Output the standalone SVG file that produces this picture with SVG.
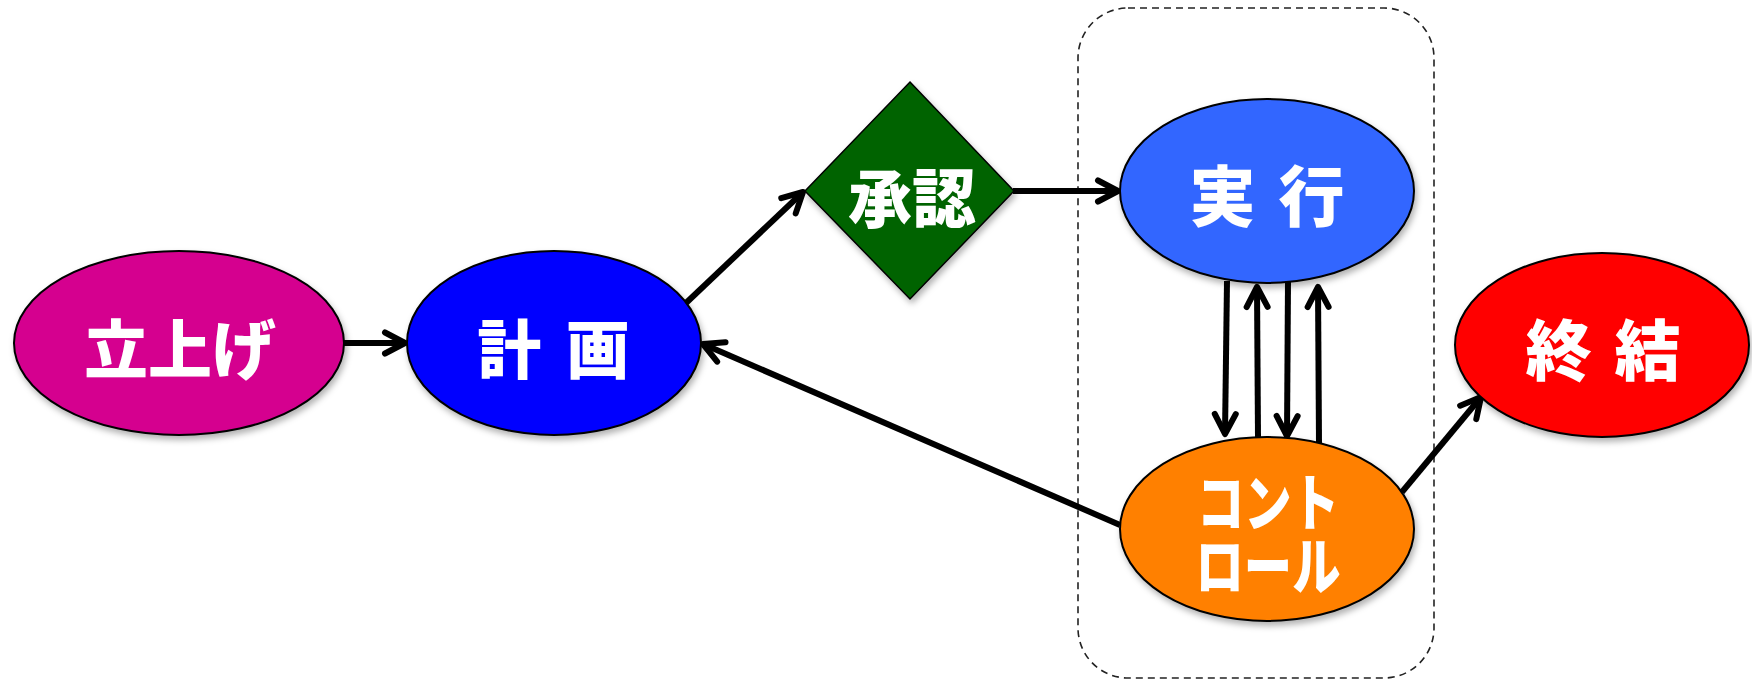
<svg xmlns="http://www.w3.org/2000/svg" width="1752" height="683" viewBox="0 0 1752 683">
<defs>
<filter id="sh" x="-20%" y="-20%" width="140%" height="150%">
<feDropShadow dx="2" dy="4" stdDeviation="3" flood-color="#000" flood-opacity="0.3"/>
</filter>
<marker id="arr" viewBox="0 0 28 28" refX="24" refY="14" markerWidth="28" markerHeight="28" markerUnits="userSpaceOnUse" orient="auto">
<path d="M4,3.5 L24,14 L4,24.5" fill="none" stroke="#000" stroke-width="6" stroke-linecap="round" stroke-linejoin="round"/>
</marker>
<style>
.node{stroke:#000;stroke-width:2;filter:url(#sh);}
.lbl{font-family:"Noto Sans CJK JP","Noto Sans CJK SC",sans-serif;font-weight:900;fill:#fff;text-anchor:middle;}
.con{fill:none;stroke:#000;stroke-width:6px;}
</style>
</defs>
<rect width="1752" height="683" fill="#fff"/>
<rect x="1078" y="8" width="356" height="670" rx="50" ry="50" fill="none" stroke="#222" stroke-width="1.6" stroke-dasharray="7,5"/>
<g id="connectors">
<path class="con" marker-end="url(#arr)" d="M344,343 L405,343"/>
<path class="con" marker-end="url(#arr)" d="M686,303 L803,192"/>
<path class="con" marker-end="url(#arr)" d="M1013,191 L1118,191"/>
<path class="con" marker-end="url(#arr)" d="M1227,281 L1225,434"/>
<path class="con" marker-end="url(#arr)" d="M1258,438 L1257,287"/>
<path class="con" marker-end="url(#arr)" d="M1288,281 L1287,436"/>
<path class="con" marker-end="url(#arr)" d="M1319,444 L1318,287"/>
<path class="con" marker-end="url(#arr)" d="M1120,525 L703,344"/>
<path class="con" marker-end="url(#arr)" d="M1402,492 L1481,397"/>
</g>
<g id="n-tachiage">
<ellipse class="node" cx="179" cy="343" rx="165" ry="92" fill="#D5008F"/>
<text class="lbl" x="180" y="373" font-size="64">立上げ</text>
</g>
<g id="n-keikaku">
<ellipse class="node" cx="554" cy="343" rx="147" ry="92" fill="#0000FF"/>
<text class="lbl" x="556" y="373" font-size="64" letter-spacing="5">計 画</text>
</g>
<g id="n-shounin">
<polygon class="node" points="910,82 1014,191 910,299 805,191" fill="#006400" style="stroke-width:1.5"/>
<text class="lbl" x="912" y="222" font-size="64">承認</text>
</g>
<g id="n-jikkou">
<ellipse class="node" cx="1267" cy="191" rx="147" ry="92" fill="#3366FF"/>
<text class="lbl" x="1269" y="221" font-size="66" letter-spacing="4">実 行</text>
</g>
<g id="n-control">
<ellipse class="node" cx="1267" cy="529" rx="147" ry="92" fill="#FF8000"/>
<text class="lbl" font-size="62"><tspan x="1268" y="526" textLength="142" lengthAdjust="spacingAndGlyphs">コント</tspan><tspan x="1268" y="590" textLength="145" lengthAdjust="spacingAndGlyphs">ロール</tspan></text>
</g>
<g id="n-shuuketsu">
<ellipse class="node" cx="1602" cy="345" rx="147" ry="92" fill="#FF0000"/>
<text class="lbl" x="1605" y="375" font-size="66" letter-spacing="4">終 結</text>
</g>
</svg>
